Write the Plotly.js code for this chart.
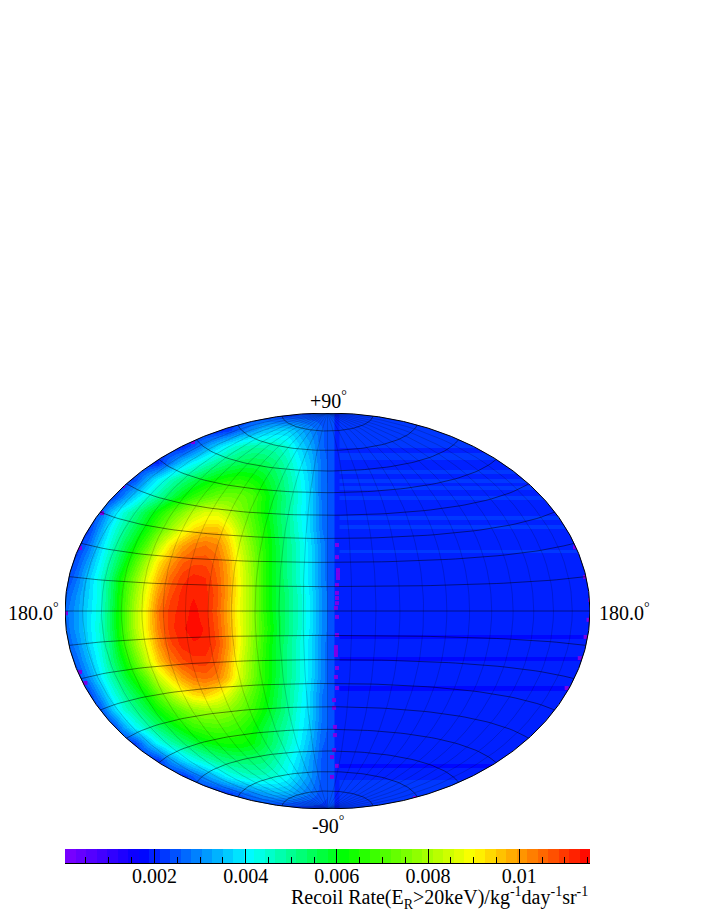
<html><head><title>Recoil Rate Sky Map</title><meta charset="UTF-8"><script src="https://cdn.plot.ly/plotly-3.0.1.min.js"></script><style>
        body, html { margin: 0; padding: 0; background-color: #ffffff; }
    </style></head><body>
    <div id="plot" style="width:708px;height:917px;"></div>
    <script>
        const rateUnit = 1e-4;
        const rateMin = 0.00004;
        const rateMax = 0.01155;
        const levelCount = 50;

        // palette anchors (fraction of the colour range)
        const paletteStops = [0, 0.144, 0.353, 0.533, 0.777, 1];
        const paletteColors = [[128, 0, 255], [0, 0, 255], [0, 255, 255], [0, 255, 0], [255, 255, 0], [255, 0, 0]];

        // left half of the map: columns in projected degrees, rows from the top
        // the last column lies under the right half, it only keeps the grid even
        const leftMapX = [-180, -172, -164, -156, -148, -140, -132, -124, -116, -108, -100, -92, -84, -76, -68, -60, -52, -44, -36, -28, -20, -12, -4, 4];
        const leftMapY = [90, 82.5, 75, 67.5, 60, 52.5, 45, 37.5, 30, 22.5, 15, 7.5, 0, -7.5, -15, -22.5, -30, -37.5, -45, -52.5, -60, -67.5, -75, -82.5, -90];
        const leftRates = [
            [20,20,20,20,20,20,20,20,20,20,20,20,20,20,20,20,20,20,20,20,22,23,24,24],
            [20,20,20,20,20,20,20,20,20,20,20,20,20,20,22,27,31,35,37,37,34,30,26,24],
            [20,20,20,20,20,20,20,20,20,20,20,25,31,37,42,46,48,48,47,44,38,33,26,24],
            [20,20,20,20,20,20,20,20,21,29,36,41,46,50,53,55,56,55,52,47,41,35,27,24],
            [20,20,20,20,20,20,24,33,40,46,51,55,59,62,64,65,63,60,55,49,43,36,27,24],
            [20,20,20,20,22,29,37,44,49,55,61,66,70,73,74,73,70,64,57,50,44,37,27,25],
            [20,20,20,26,36,44,50,57,63,70,76,82,86,86,82,76,70,63,56,50,43,37,28,25],
            [20,20,22,32,42,49,56,63,71,79,87,93,96,96,91,81,72,65,57,50,44,37,28,25],
            [20,21,27,37,46,54,62,71,82,92,99,103,104,102,95,84,75,66,58,51,45,38,29,25],
            [20,25,32,41,50,59,70,81,92,100,106,108,108,105,98,87,77,67,58,51,45,38,29,25],
            [22,28,36,44,54,65,76,87,97,105,110,112,111,106,99,88,78,67,58,51,45,38,29,25],
            [25,31,37,44,55,67,79,90,101,108,112,113,112,107,99,88,78,67,58,52,46,39,30,25],
            [27,32,38,44,56,68,81,92,104,110,112,114,112,106,98,87,78,67,58,52,46,39,30,25],
            [26,32,38,45,56,68,81,92,103,110,113,114,113,107,99,88,78,68,59,52,46,39,30,25],
            [25,30,37,44,54,66,78,89,100,108,112,113,113,108,100,88,77,67,58,51,45,38,29,25],
            [21,27,34,42,52,61,72,84,95,103,108,110,110,106,98,86,76,66,58,51,45,38,29,25],
            [20,23,30,39,48,56,64,73,84,93,100,104,105,103,96,85,75,66,58,51,45,38,29,25],
            [20,20,22,32,42,49,56,63,72,80,88,93,95,91,86,78,71,64,57,50,44,37,28,25],
            [20,20,20,24,35,44,50,56,62,68,73,77,79,79,77,73,68,62,56,50,43,37,28,25],
            [20,20,20,20,22,32,41,47,53,58,63,67,69,70,69,67,63,58,53,48,42,36,27,24],
            [20,20,20,20,20,20,23,33,41,47,52,56,60,62,63,63,61,57,52,46,41,34,26,24],
            [20,20,20,20,20,20,20,20,22,31,37,42,46,50,52,53,53,52,48,43,38,32,25,23],
            [20,20,20,20,20,20,20,20,20,20,21,26,31,36,41,44,46,46,44,41,36,31,25,23],
            [20,20,20,20,20,20,20,20,20,20,20,20,20,20,22,26,29,32,34,34,31,28,24,23],
            [20,20,20,20,20,20,20,20,20,20,20,20,20,20,20,20,20,20,20,20,21,22,23,23]
        ];

        // right half: almost flat, only horizontal stripes (band edges from the top)
        const rightBandEdges = [90, 74.1, 71.8, 68.6, 64.1, 62.3, 60, 58.2, 56.8, 55, 52.3, 50.5, 43.2, 41.4, 39.1, 37.3, 27.7, 26.4, -10.9, -12.7, -20.9, -22.7, -34.1, -36.4, -69.5, -71.4, -76.8, -90];
        const rightBandRates = [23, 20, 23, 20, 23, 20, 23, 20, 23, 20, 23, 20, 23, 20, 23, 20, 22, 20, 17, 20, 18, 20, 17, 20, 18, 20, 22];
        const rightColEdges = [0, 4.5, 8, 180];
        const centreBandRate = 24;
        const besideBandRate = 20;

        // little violet patches next to the centre line and along the rim
        const patchX = [6.5, 6.5, 7.2, 7.2, 7.2, 6.5, 6.5, 6.5, 6.5, 5.8, 6.5, 6.5, 5.8, 5.8, 5.8, 6.5, 5.8, 6.5, 4.5, 4.5, 5.1, 5.1, 4.5, 3.1, 6.5, 3.1,
            180, 179, 177, 173, 164, 176.6, 169.7, -179.3, -169.7, -166, -154.6, -92.2, -140.2, -169.7, 60];
        const patchY = [30, 24.5, 18.6, 16.8, 15, 11.8, 8.2, 5.9, 3.6, 1.4, -2.7, -10.9, -16.4, -18.2, -20, -25.9, -30, -35, -40.5, -44, -52.7, -56.4, -63.2, -66.4, -70.4, -75.4,
            5, -4, -11.8, -21.4, -35, 15.5, 29, -1, -27.7, -32.7, 44.5, 76.8, 56.8, 28.6, -85];

        const gridLons = [-165, -150, -135, -120, -105, -90, -75, -60, -45, -30, -15, 0, 15, 30, 45, 60, 75, 90, 105, 120, 135, 150, 165];
        const gridLats = [-80, -70, -60, -50, -40, -30, -20, -10, 0, 10, 20, 30, 40, 50, 60, 70, 80];

        const keyTickVals = [0.002, 0.004, 0.006, 0.008, 0.01];
        const keyTickText = ['0.002', '0.004', '0.006', '0.008', '0.01'];
        const keyMinorVals = [0.0005, 0.001, 0.0015, 0.0025, 0.003, 0.0035, 0.0045, 0.005, 0.0055, 0.0065, 0.007, 0.0075, 0.0085, 0.009, 0.0095, 0.0105, 0.011, 0.0115];

        function paletteAt(t) {
            let i = 0;
            while (i < paletteStops.length - 2 && t > paletteStops[i + 1]) i++;
            const f = (t - paletteStops[i]) / (paletteStops[i + 1] - paletteStops[i]);
            const c = paletteColors[i].map((v, k) => Math.round(v + (paletteColors[i + 1][k] - v) * f));
            return `rgb(${c[0]},${c[1]},${c[2]})`;
        }

        // stepped colour scale, the original has discrete levels
        const colorscale = [];
        for (let i = 0; i < levelCount; i++) {
            const c = paletteAt((i + 0.5) / levelCount);
            colorscale.push([i / levelCount, c], [(i + 1) / levelCount, c]);
        }

        // Hammer projection, scaled to +-180 / +-90 on the axes
        function hammer(lon, lat) {
            const l = lon * Math.PI / 180, p = lat * Math.PI / 180;
            const d = Math.sqrt(1 + Math.cos(p) * Math.cos(l / 2));
            return [180 * Math.cos(p) * Math.sin(l / 2) / d, 90 * Math.sin(p) / d];
        }

        const meridianX = [], meridianY = [], parallelX = [], parallelY = [];
        gridLons.forEach(lon => {
            for (let lat = -90; lat <= 90; lat += 3) {
                const q = hammer(lon, lat);
                meridianX.push(q[0]); meridianY.push(q[1]);
            }
            meridianX.push(null); meridianY.push(null);
        });
        gridLats.forEach(lat => {
            for (let lon = -180; lon <= 180; lon += 5) {
                const q = hammer(lon, lat);
                parallelX.push(q[0]); parallelY.push(q[1]);
            }
            parallelX.push(null); parallelY.push(null);
        });

        const keyX = [], keyRates = [];
        for (let i = 0; i < levelCount; i++) {
            keyX.push(rateMin + (rateMax - rateMin) * (i + 0.5) / levelCount);
            keyRates.push(keyX[i]);
        }

        const traces = [
            {
                type: 'heatmap', x: leftMapX, y: leftMapY.slice().reverse(),
                z: leftRates.slice().reverse().map(r => r.map(v => v * rateUnit)),
                zsmooth: 'best', coloraxis: 'coloraxis', hoverinfo: 'skip'
            },
            {
                type: 'heatmap', x: rightColEdges, y: rightBandEdges.slice().reverse(),
                z: rightBandRates.slice().reverse().map(v => [centreBandRate * rateUnit, besideBandRate * rateUnit, v * rateUnit]),
                coloraxis: 'coloraxis', hoverinfo: 'skip'
            },
            {
                type: 'scatter', mode: 'markers', x: patchX, y: patchY,
                marker: { color: '#7b00e8', size: 4, symbol: 'square' }, hoverinfo: 'skip', showlegend: false
            },
            {
                type: 'scatter', mode: 'lines', x: meridianX, y: meridianY,
                line: { color: 'rgba(0,0,0,0.35)', width: 0.5 }, hoverinfo: 'skip', showlegend: false
            },
            {
                type: 'scatter', mode: 'lines', x: parallelX, y: parallelY,
                line: { color: 'rgba(0,0,0,0.6)', width: 0.8 }, hoverinfo: 'skip', showlegend: false
            },
            {
                type: 'heatmap', x: keyX, y: [0.5], z: [keyRates], xaxis: 'x2', yaxis: 'y2',
                coloraxis: 'coloraxis', hoverinfo: 'skip'
            }
        ];

        // white mask round the ellipse (bezier, arcs are not allowed in data coordinates)
        const kx = 180 * 0.5523, ky = 90 * 0.5523;
        const maskPath = `M-180,-90 H180 V90 H-180 Z ` +
            `M-180,0 C-180,${ky} ${-kx},90 0,90 C${kx},90 180,${ky} 180,0 ` +
            `C180,${-ky} ${kx},-90 0,-90 C${-kx},-90 -180,${-ky} -180,0 Z`;

        const serif = 'Liberation Serif, Times New Roman, serif';
        const W = 708, H = 917;
        const label = (text, px, py, anchor) => ({
            text: text, x: px / W, y: 1 - py / H, xref: 'paper', yref: 'paper',
            xanchor: anchor, yanchor: 'middle', showarrow: false,
            font: { family: serif, size: 20, color: '#000000' }
        });

        const layout = {
            width: W, height: H,
            margin: { l: 0, r: 0, t: 0, b: 0 },
            paper_bgcolor: '#ffffff', plot_bgcolor: '#ffffff',
            showlegend: false,
            coloraxis: { colorscale: colorscale, cmin: rateMin, cmax: rateMax, showscale: false },
            xaxis: { domain: [65 / W, 590 / W], range: [-180, 180], visible: false, fixedrange: true },
            yaxis: { domain: [1 - 809 / H, 1 - 413 / H], range: [-90, 90], visible: false, fixedrange: true },
            xaxis2: {
                domain: [65 / W, 590 / W], range: [rateMin, rateMax], anchor: 'y2',
                tickmode: 'array', tickvals: keyTickVals, ticktext: keyTickText,
                ticks: 'inside', ticklen: 14, tickwidth: 1, tickcolor: '#000000', ticklabelstandoff: -5,
                minor: { tickmode: 'array', tickvals: keyMinorVals, ticks: 'inside', ticklen: 6, tickwidth: 1, tickcolor: '#000000', showgrid: false },
                showline: true, linecolor: '#000000', linewidth: 1, showgrid: false, zeroline: false,
                tickfont: { family: serif, size: 20, color: '#000000' }
            },
            yaxis2: { domain: [1 - 863 / H, 1 - 849 / H], range: [0, 1], visible: false, anchor: 'x2' },
            shapes: [
                { type: 'path', path: maskPath, xref: 'x', yref: 'y', fillcolor: '#ffffff', line: { width: 0 }, layer: 'above' },
                { type: 'circle', xref: 'x', yref: 'y', x0: -180, x1: 180, y0: -90, y1: 90, line: { color: '#000000', width: 1 }, layer: 'above' }
            ],
            annotations: [
                label('+90<sup>°</sup>', 328, 400, 'center'),
                label('-90<sup>°</sup>', 328, 825, 'center'),
                label('180.0<sup>°</sup>', 6, 612, 'left'),
                label('180.0<sup>°</sup>', 597, 612, 'left'),
                label('Recoil Rate(E<sub>R</sub>>20keV)/kg<sup>-1</sup>day<sup>-1</sup>sr<sup>-1</sup>', 590, 898, 'right')
            ]
        };

        Plotly.newPlot('plot', traces, layout, { displayModeBar: false, staticPlot: true });
    </script>
</body></html>
